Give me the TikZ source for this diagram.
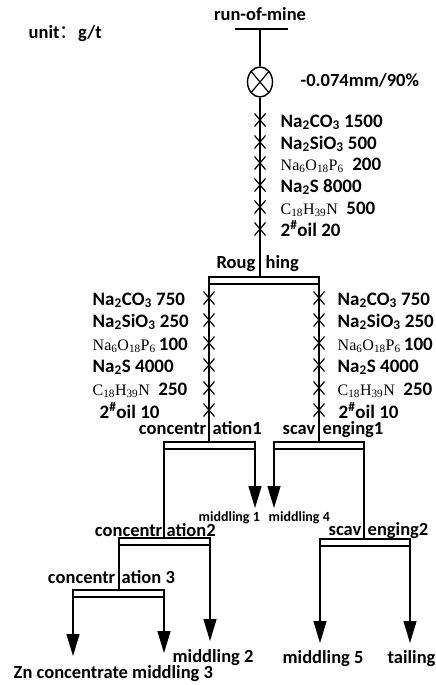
\documentclass[tikz,border=0pt]{standalone}
\usepackage{fontspec}
\setmainfont{Carlito}
\newfontfamily\serifchem{Liberation Serif}
\newfontfamily\cjk{Noto Sans CJK SC}
\usetikzlibrary{arrows.meta,shapes.geometric}
\newcommand\hmpchem{{\serifchem\mdseries\fontsize{16}{18}\selectfont Na\textsubscript{6}O\textsubscript{18}P\textsubscript{6}}}
\newcommand\aminechem{{\serifchem\mdseries\fontsize{16}{18}\selectfont C\textsubscript{18}H\textsubscript{39}N}}
\begin{document}
\begin{tikzpicture}[x=1pt,y=-1pt,line width=1.4pt,
  lbl/.style={font=\fontsize{18.5}{21}\selectfont\bfseries,inner sep=0pt,anchor=base west},
  chem/.style={font=\fontsize{19}{21}\selectfont\bfseries,inner sep=0pt,anchor=base west},
  lblc/.style={lbl,anchor=base},
  small/.style={font=\fontsize{14}{16}\selectfont\bfseries,inner sep=0pt,anchor=base west},
  bar/.style={draw,line width=1.4pt,fill=white},
  flow/.style={-{Triangle[width=13pt,length=22pt]}},
  xcross/.pic={\draw[line width=1.2pt] (-5.5,-6.5)--(5.5,6.5) (-5.5,6.5)--(5.5,-6.5);}]
\useasboundingbox (0,0) rectangle (436,685);

% top
\node[lbl] (unit) at (28,39) {unit{\cjk\mdseries ：}g/t};
\node[lblc] (rom) at (260,21) {run-of-mine};
\coordinate (feedL) at (235,29);
\coordinate (feedR) at (288,29);
\coordinate (feed) at (260,29);
\draw (feedL) -- (feedR);
\node[draw,ellipse,minimum width=25pt,minimum height=30pt,inner sep=0pt,line width=1.4pt] (mill) at (260,82) {};
\draw[line width=1.2pt] (mill.north west) -- (mill.south east) (mill.north east) -- (mill.south west);
\node[lbl] (grind) at (300,86) {-0.074mm/90\%};
\draw (feed) -- (mill.north);

% roughing bar
\coordinate (rtop) at (260,277);
\draw (mill.south) -- (rtop);
\draw[bar] (209,277) rectangle (319,284);
\coordinate (rL) at (209,284);
\coordinate (rR) at (319,284);
\node[lbl,anchor=base east] (rgA) at (256,268) {Roug};
\node[lbl] (rgB) at (265,268) {hing};

% top reagents
\foreach \yy in {120,142,163,185,207,229} \pic at (260,\yy) {xcross};
\node[chem] (a1) at (280,127) {Na\textsubscript{2}CO\textsubscript{3} 1500};
\node[chem] (a2) at (280,149) {Na\textsubscript{2}SiO\textsubscript{3} 500};
\node[chem] (a3) at (280,170) {\hmpchem\ \ 200};
\node[chem] (a4) at (280,192) {Na\textsubscript{2}S 8000};
\node[chem] (a5) at (280,214) {\aminechem\ \ 500};
\node[chem] (a6) at (280,236) {2\textsuperscript{\#}oil 20};

% concentration1 / scavenging1 bars
\coordinate (c1top) at (209,442);
\coordinate (s1top) at (319,442);
\draw (rL) -- (c1top);
\draw (rR) -- (s1top);
\draw[bar] (164,442) rectangle (255,449);
\draw[bar] (274,442) rectangle (364,449);
\foreach \yy in {298,320,343,365,388,410} {\pic at (209,\yy) {xcross}; \pic at (319,\yy) {xcross};}
\node[chem] (b1) at (92,305) {Na\textsubscript{2}CO\textsubscript{3} 750};
\node[chem] (b2) at (92,327) {Na\textsubscript{2}SiO\textsubscript{3} 250};
\node[chem] (b3) at (92,350) {\hmpchem\,100};
\node[chem] (b4) at (92,372) {Na\textsubscript{2}S 4000};
\node[chem] (b5) at (92,395) {\aminechem\ \ 250};
\node[chem] (b6) at (99,418) {2\textsuperscript{\#}oil 10};
\node[chem] (d1) at (337,305) {Na\textsubscript{2}CO\textsubscript{3} 750};
\node[chem] (d2) at (337,327) {Na\textsubscript{2}SiO\textsubscript{3} 250};
\node[chem] (d3) at (337,350) {\hmpchem\,100};
\node[chem] (d4) at (337,372) {Na\textsubscript{2}S 4000};
\node[chem] (d5) at (337,395) {\aminechem\ \ 250};
\node[chem] (d6) at (338,418) {2\textsuperscript{\#}oil 10};
\node[lbl,anchor=base east] (c1A) at (207,434) {concentr};
\node[lbl] (c1B) at (212,434) {ation1};
\node[lbl,anchor=base east] (s1A) at (316,434) {scav};
\node[lbl] (s1B) at (322,434) {enging1};

% outputs of concentration1 and scavenging1
\coordinate (c1L) at (164,449);
\coordinate (c1R) at (255,449);
\coordinate (s1L) at (274,449);
\coordinate (s1R) at (364,449);
\coordinate (m1) at (255,508);
\coordinate (m4) at (274,508);
\draw[flow] (c1R) -- (m1);
\draw[flow] (s1L) -- (m4);
\node[small] (m1t) at (198,521) {middling 1};
\node[small] (m4t) at (268,521) {middling 4};

% concentration2
\coordinate (c2top) at (164,538);
\draw (c1L) -- (c2top);
\draw[bar] (119,538) rectangle (210,545);
\node[lbl,anchor=base east] (c2A) at (163,536) {concentr};
\node[lbl] (c2B) at (166,536) {ation2};

% scavenging2
\coordinate (s2top) at (364,539);
\draw (s1R) -- (s2top);
\draw[bar] (320,539) rectangle (410,546);
\node[lbl,anchor=base east] (s2A) at (362,535) {scav};
\node[lbl] (s2B) at (367,535) {enging2};

% concentration3
\coordinate (c2L) at (119,545);
\coordinate (c2R) at (210,545);
\coordinate (c3top) at (119,590);
\draw (c2L) -- (c3top);
\draw[bar] (73,590) rectangle (164,597);
\node[lbl,anchor=base east] (c3A) at (116,583) {concentr};
\node[lbl] (c3B) at (121,583) {ation 3};
\coordinate (m2) at (210,641);
\draw[flow] (c2R) -- (m2);
\node[lbl] (m2t) at (172,662) {middling 2};

\coordinate (c3L) at (73,597);
\coordinate (c3R) at (164,597);
\coordinate (zn) at (73,656);
\coordinate (m3) at (164,653);
\draw[flow] (c3L) -- (zn);
\draw[flow] (c3R) -- (m3);
\node[lbl] (znt) at (13,678) {Zn concentrate middling 3};

\coordinate (s2L) at (320,546);
\coordinate (s2R) at (410,546);
\coordinate (m5) at (320,643);
\coordinate (tl) at (410,643);
\draw[flow] (s2L) -- (m5);
\draw[flow] (s2R) -- (tl);
\node[lbl] (m5t) at (282,663) {middling 5};
\node[lbl] (tlt) at (387,663) {tailing};
\end{tikzpicture}
\end{document}
